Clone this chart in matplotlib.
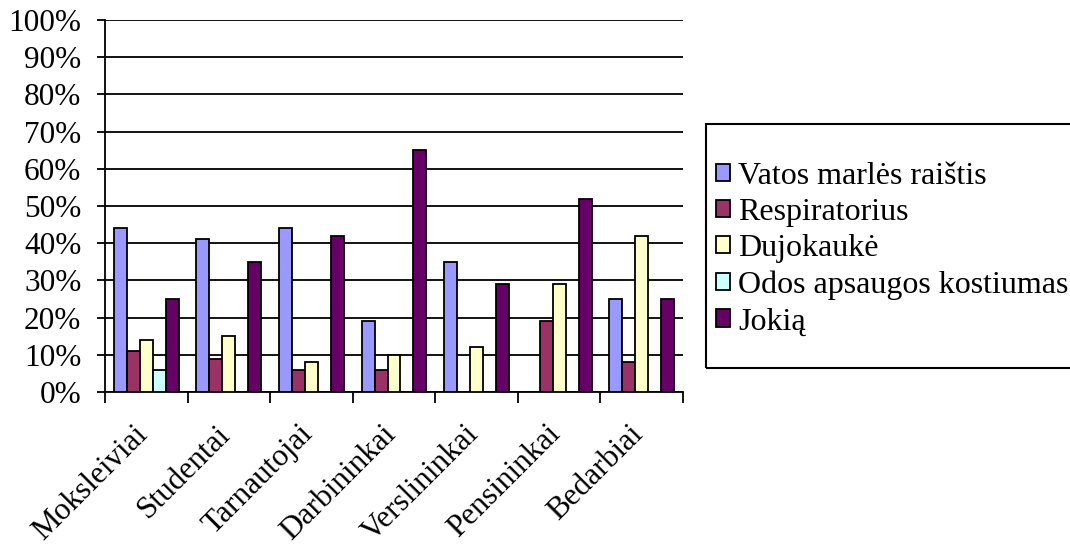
import matplotlib
matplotlib.use("Agg")
import matplotlib.pyplot as plt
import matplotlib.transforms as mtransforms
from matplotlib.patches import Rectangle
import numpy as np

categories = ["Moksleiviai", "Studentai", "Tarnautojai", "Darbininkai",
              "Verslininkai", "Pensininkai", "Bedarbiai"]
series_names = ["Vatos marlės raištis", "Respiratorius", "Dujokaukė",
                "Odos apsaugos kostiumas", "Jokią"]
vatos = [44, 41, 44, 19, 35, 0, 25]
respiratorius = [11, 9, 6, 6, 0, 19, 8]
dujokauke = [14, 15, 8, 10, 12, 29, 42]
odos = [6, 0, 0, 0, 0, 0, 0]
jokia = [25, 35, 42, 65, 29, 52, 25]
yticks = [0, 10, 20, 30, 40, 50, 60, 70, 80, 90, 100]
colors = ["#9999FF", "#993366", "#FFFFCC", "#CCFFFF", "#660066"]

plt.rcParams['font.family'] = ['Liberation Serif', 'DejaVu Serif']
FS = 22.5
W, H = 1070, 546

fig = plt.figure(figsize=(W/100, H/100), dpi=100)
ax = fig.add_axes([105/W, 1-392/H, 578/W, 372/H])

series = [vatos, respiratorius, dujokauke, odos, jokia]
x = np.arange(len(categories))
w = 0.157
for i, (vals, c, name) in enumerate(zip(series, colors, series_names)):
    ax.bar(x + (i - 2) * w, vals, width=w, color=c, edgecolor='black',
           linewidth=1.3, label=name, zorder=3)

ax.set_xlim(-0.5, len(categories) - 0.5)
ax.set_ylim(0, 100)
ax.set_yticks(yticks)
ax.set_yticklabels([f"{v}%" for v in yticks], fontsize=FS)
ax.yaxis.grid(True, color='black', linewidth=1.3, zorder=0)
ax.set_axisbelow(True)

ax.set_xticks(np.arange(len(categories) + 1) - 0.5)
ax.set_xticklabels([])
ax.set_xticks(x, minor=True)
ax.set_xticklabels(categories, minor=True, rotation=45, ha='right',
                   rotation_mode='anchor', fontsize=FS)
ax.tick_params(axis='x', which='minor', length=0, pad=4)
ax.tick_params(axis='x', which='major', length=8, width=1.3, direction='out')
ax.tick_params(axis='y', length=6, width=1.3, direction='out', pad=11)

offset = mtransforms.ScaledTranslation(-0.13, -0.22, fig.dpi_scale_trans)
for lab in ax.get_xticklabels(minor=True):
    lab.set_transform(lab.get_transform() + offset)

for s in ['top', 'right']:
    ax.spines[s].set_visible(False)
for s in ['left', 'bottom']:
    ax.spines[s].set_linewidth(1.3)

leg = fig.legend(loc='center left', bbox_to_anchor=(706/W, 1-249/H),
                 fontsize=23, frameon=False,
                 handlelength=0.45, handleheight=0.45, handletextpad=0.25,
                 labelspacing=0.23, borderpad=0.3, borderaxespad=0)
fig.patches.append(Rectangle((706/W, 1-368/H), 400/W, 244/H,
                             transform=fig.transFigure, fill=False,
                             edgecolor='black', linewidth=1.5))

fig.savefig("out.png", dpi=100)
